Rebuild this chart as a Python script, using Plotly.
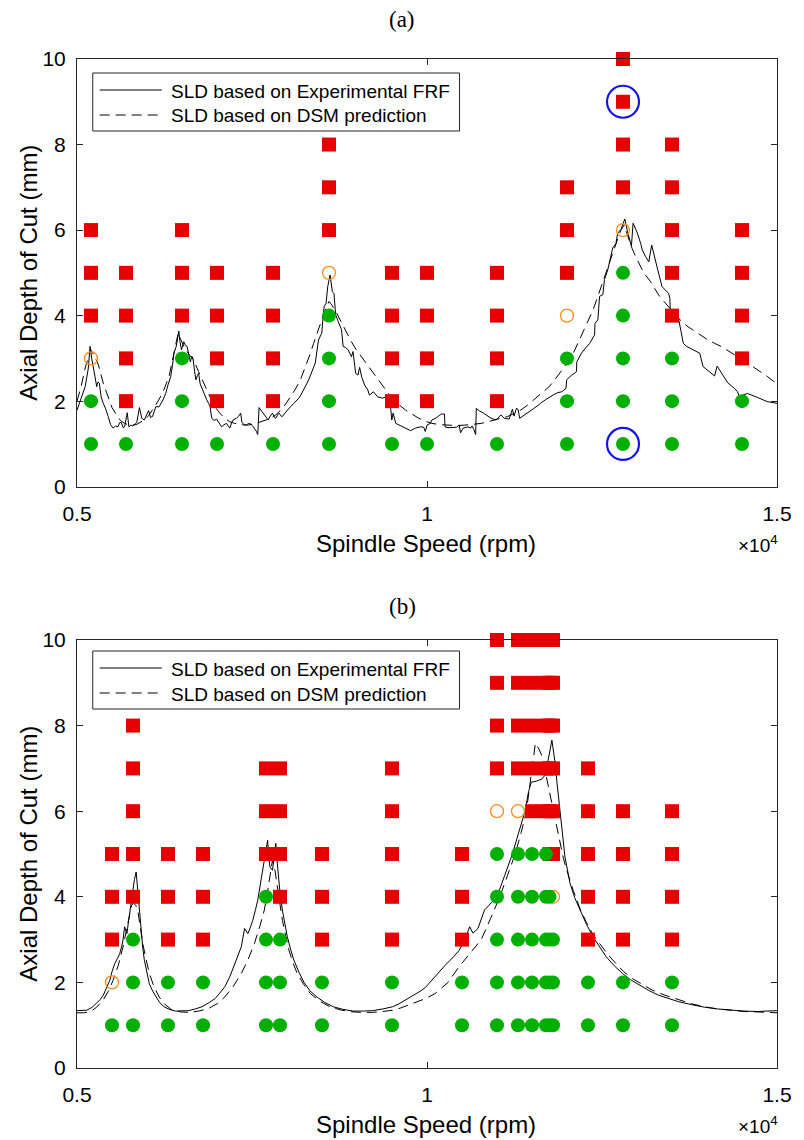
import plotly.graph_objects as go

# ---------------- data: panel (a) ----------------
a_sld_exp_rpm = [5000,5117,5160,5187,5210,5234,5260,5281,5300,5319,5345,5375,5410,5446,5480,5516,5550,5586,5610,5633,5660,5680,5718,5741,5770,5798,5830,5854,5892,5925,5962,6000,6023,6050,6079,6126,6173,6220,6267,6300,6338,6365,6385,6418,6455,6470,6493,6525,6550,6572,6600,6619,6640,6657,6680,6699,6720,6737,6760,6793,6825,6854,6880,6901,6925,6960,6995,7030,7065,7100,7136,7160,7183,7210,7230,7277,7310,7338,7356,7390,7418,7450,7478,7510,7535,7560,7582,7601,7640,7676,7705,7732,7760,7793,7820,7840,7865,7887,7910,7934,7970,8004,8050,8098,8130,8169,8200,8239,8286,8315,8343,8380,8404,8430,8450,8470,8497,8515,8530,8558,8582,8615,8648,8671,8695,8732,8779,8802,8840,8873,8920,8943,8981,9014,9037,9070,9108,9155,9178,9234,9295,9366,9413,9460,9483,9497,9516,9554,9600,9647,9700,9765,9835,9906,9953,9976,10000,10047,10070,10141,10188,10211,10249,10258,10300,10352,10422,10460,10479,10516,10560,10587,10624,10643,10671,10695,10704,10750,10798,10860,10915,10986,11020,11056,11103,11173,11220,11244,11277,11300,11324,11380,11432,11480,11526,11596,11620,11690,11750,11807,11870,11925,11986,11995,12060,12136,12140,12206,12270,12324,12394,12400,12441,12465,12512,12535,12582,12620,12653,12700,12723,12770,12826,12864,12897,12920,12944,13005,13052,13075,13122,13169,13210,13250,13286,13357,13404,13451,13470,13474,13545,13592,13629,13662,13709,13803,13897,13943,14014,14108,14145,14225,14296,14390,14437,14460,14577,14718,14859,15000]
a_sld_exp_mm = [1.79,2.34,2.75,3.28,3.0,2.81,2.55,2.34,2.45,2.42,2.1,1.95,1.82,1.64,1.45,1.37,1.42,1.40,1.5,1.50,1.38,1.40,1.73,1.40,1.44,1.42,1.46,1.50,1.85,1.6,1.56,1.72,1.78,1.62,1.64,1.87,1.87,2.0,2.18,2.38,2.57,2.85,3.12,3.28,3.64,3.4,3.20,3.39,3.30,3.28,3.05,2.92,3.05,3.00,2.7,2.50,2.6,2.65,2.4,2.26,2.15,2.03,1.95,1.87,1.60,1.55,1.58,1.48,1.40,1.45,1.48,1.42,1.37,1.5,1.56,1.60,1.65,1.72,1.50,1.45,1.44,1.48,1.47,1.42,1.37,1.3,1.22,1.85,1.76,1.68,1.6,1.56,1.65,1.72,1.62,1.60,1.68,1.72,1.66,1.64,1.72,1.79,1.87,1.95,2.0,2.07,2.15,2.26,2.42,2.52,2.65,2.8,2.89,3.2,3.43,3.5,3.59,3.95,4.21,4.29,4.68,4.95,4.56,4.52,4.02,3.86,3.67,3.28,3.25,3.20,3.04,3.16,2.65,2.61,2.79,2.55,2.38,2.26,2.14,2.22,2.10,2.07,2.10,2.03,1.81,1.56,1.72,1.48,1.44,1.40,1.36,1.31,1.37,1.40,1.39,1.29,1.44,1.48,1.56,1.62,1.68,1.70,1.70,1.40,1.38,1.39,1.39,1.44,1.26,1.37,1.38,1.40,1.37,1.42,1.33,1.22,1.83,1.77,1.73,1.65,1.60,1.56,1.62,1.68,1.60,1.58,1.81,1.65,1.83,1.81,1.60,1.66,1.71,1.77,1.83,1.91,1.95,2.03,2.1,2.15,2.2,2.22,2.30,2.50,2.6,2.69,2.92,3.12,3.25,3.35,3.55,3.82,3.90,4.45,4.49,4.84,5.07,5.35,5.58,5.69,5.93,6.01,6.26,5.97,5.77,5.62,6.16,5.93,5.69,5.54,5.38,5.26,5.65,5.35,5.14,4.68,4.60,4.52,4.40,4.13,4.02,3.94,3.63,3.35,3.28,3.20,3.12,2.81,2.71,2.59,2.82,2.61,2.43,2.30,2.22,2.11,2.18,2.09,1.99,1.95]

a_sld_dsm_rpm = [5000,5060,5120,5170,5197,5250,5305,5375,5446,5500,5563,5620,5680,5750,5845,5950,6020,6079,6150,6220,6270,6314,6350,6384,6420,6445,6480,6525,6596,6666,6737,6831,6900,6971,7040,7112,7180,7253,7350,7441,7540,7629,7700,7770,7840,7910,7980,8051,8120,8192,8240,8286,8330,8380,8430,8474,8520,8560,8600,8640,8709,8780,8850,8920,8990,9060,9131,9200,9272,9340,9413,9480,9554,9620,9695,9790,9882,9976,10070,10190,10305,10420,10540,10660,10775,10870,10962,11060,11150,11240,11338,11430,11526,11600,11667,11740,11807,11880,11948,12020,12089,12160,12230,12300,12371,12430,12488,12550,12605,12650,12700,12740,12770,12817,12850,12887,12930,12981,13030,13075,13130,13192,13250,13310,13380,13451,13540,13638,13730,13826,13920,14014,14110,14202,14300,14390,14480,14577,14670,14765,14860,14953,15000]
a_sld_dsm_mm = [2.0,2.35,2.8,3.1,3.2,3.05,2.85,2.42,2.10,1.85,1.68,1.55,1.48,1.44,1.45,1.55,1.65,1.79,1.98,2.18,2.38,2.57,2.85,3.12,3.4,3.59,3.45,3.28,3.10,2.96,2.69,2.34,2.10,1.87,1.72,1.60,1.52,1.48,1.45,1.44,1.47,1.52,1.56,1.60,1.68,1.79,1.93,2.10,2.28,2.50,2.70,2.89,3.1,3.35,3.6,3.80,4.05,4.2,4.33,4.25,4.06,3.83,3.59,3.39,3.20,3.04,2.89,2.73,2.57,2.41,2.26,2.12,1.99,1.89,1.79,1.69,1.60,1.53,1.48,1.45,1.44,1.43,1.44,1.46,1.48,1.52,1.56,1.60,1.64,1.71,1.79,1.90,2.03,2.12,2.22,2.33,2.46,2.61,2.77,2.94,3.12,3.37,3.63,3.88,4.13,4.40,4.68,4.98,5.26,5.48,5.69,5.87,6.00,6.12,5.95,5.77,5.57,5.38,5.22,5.07,4.93,4.80,4.64,4.48,4.34,4.21,4.03,3.86,3.74,3.63,3.53,3.43,3.35,3.28,3.18,3.08,2.98,2.89,2.79,2.69,2.58,2.46,2.42]

# cutting tests (spindle speed rpm -> axial depths mm)
a_stable = {5200: [1, 2], 5700: [1], 6500: [1, 2, 3], 7000: [1], 7800: [1], 8600: [1, 2, 3, 4],
            9500: [1], 10000: [1], 11000: [1], 12000: [1, 2, 3], 12800: [1, 2, 3, 4, 5],
            13500: [1, 2, 3], 14500: [1, 2]}
a_marginal = {5200: [3], 8600: [5], 12000: [4], 12800: [6]}
a_unstable = {5200: [4, 5, 6], 5700: [2, 3, 4, 5], 6500: [4, 5, 6], 7000: [2, 3, 4, 5],
              7800: [2, 3, 4, 5], 8600: [6, 7, 8], 9500: [2, 3, 4, 5], 10000: [2, 3, 4, 5],
              11000: [2, 3, 4, 5], 12000: [5, 6, 7], 12800: [7, 8, 9, 10],
              13500: [4, 5, 6, 7, 8], 14500: [3, 4, 5, 6]}
a_highlight_rpm = [12800, 12800]
a_highlight_mm = [9, 1]

# ---------------- data: panel (b) ----------------
b_sld_exp_rpm = [5000,5140,5220,5281,5330,5375,5420,5469,5500,5539,5575,5610,5640,5657,5680,5700,5713,5730,5751,5775,5798,5820,5845,5865,5882,5900,5915,5940,5962,6000,6033,6080,6126,6180,6244,6320,6408,6500,6596,6690,6784,6880,6971,7040,7112,7180,7253,7300,7347,7394,7441,7480,7511,7550,7582,7629,7676,7723,7740,7756,7793,7815,7840,7855,7873,7900,7934,7970,8004,8050,8098,8170,8239,8330,8427,8540,8662,8800,8943,9080,9225,9370,9507,9600,9695,9770,9835,9910,9976,10040,10150,10260,10380,10460,10540,10610,10657,10728,10821,10910,11000,11110,11220,11310,11400,11450,11490,11560,11640,11690,11737,11760,11784,11805,11831,11855,11877,11900,11924,11950,11971,12010,12042,12110,12183,12280,12371,12465,12559,12680,12793,12910,13028,13170,13309,13450,13592,13780,13967,14150,14343,14530,14718,14860,15000]
b_sld_exp_mm = [1.34,1.35,1.42,1.51,1.6,1.70,1.85,2.05,2.25,2.44,2.55,2.67,2.85,2.99,3.30,3.18,3.14,3.35,3.61,3.9,4.16,4.4,4.58,4.2,3.92,3.5,3.14,2.8,2.52,2.2,1.97,1.8,1.66,1.53,1.43,1.37,1.33,1.33,1.34,1.38,1.43,1.52,1.62,1.75,1.90,2.12,2.44,2.62,2.83,3.26,3.14,3.3,3.45,3.7,3.92,4.39,4.86,5.32,4.95,4.70,4.62,4.95,5.25,4.9,4.55,4.1,3.69,3.35,3.07,2.78,2.52,2.24,2.01,1.80,1.66,1.53,1.43,1.37,1.33,1.33,1.34,1.38,1.43,1.50,1.59,1.66,1.74,1.80,1.88,2.0,2.2,2.4,2.6,2.75,3.0,3.30,3.15,3.26,3.69,3.85,4.0,4.5,5.0,5.5,6.0,6.45,6.68,6.70,6.75,6.85,7.2,7.45,7.66,7.45,7.12,6.7,6.34,5.95,5.56,5.2,4.93,4.6,4.32,3.98,3.69,3.35,3.07,2.82,2.60,2.38,2.21,2.06,1.94,1.81,1.70,1.62,1.55,1.48,1.42,1.38,1.35,1.33,1.32,1.33,1.34]

b_sld_dsm_rpm = [5000,5100,5187,5280,5375,5450,5516,5590,5657,5710,5751,5780,5807,5840,5868,5900,5939,5985,6033,6100,6173,6260,6361,6480,6596,6740,6878,7000,7112,7230,7347,7440,7535,7610,7676,7715,7746,7770,7793,7830,7864,7900,7934,7980,8028,8085,8145,8240,8333,8470,8615,8780,8943,9080,9225,9370,9507,9620,9741,9835,9976,10117,10300,10450,10620,10775,10910,11040,11150,11260,11345,11420,11460,11500,11525,11549,11600,11645,11680,11715,11750,11786,11820,11856,11900,11948,12000,12089,12180,12277,12370,12465,12580,12699,12810,12934,13070,13216,13400,13592,13780,13967,14150,14343,14530,14718,14860,15000]
b_sld_dsm_mm = [1.29,1.29,1.31,1.42,1.59,1.80,2.05,2.40,2.83,3.25,3.61,3.8,3.85,3.8,3.69,3.3,2.91,2.55,2.21,1.90,1.66,1.48,1.35,1.31,1.30,1.33,1.39,1.50,1.66,1.90,2.21,2.52,2.91,3.30,3.69,4.05,4.39,4.65,4.86,4.6,4.23,3.85,3.45,3.10,2.75,2.46,2.21,1.95,1.74,1.56,1.43,1.35,1.31,1.30,1.30,1.32,1.35,1.40,1.47,1.53,1.62,1.74,2.0,2.35,2.7,3.0,3.5,4.0,4.5,5.0,5.5,6.0,6.5,7.0,7.35,7.59,7.45,7.28,7.0,6.72,6.45,6.19,5.9,5.62,5.25,4.9,4.6,4.15,3.75,3.40,3.12,2.91,2.66,2.44,2.25,2.09,1.95,1.82,1.70,1.59,1.50,1.43,1.38,1.35,1.32,1.31,1.30,1.29]

b_stable = {5500: [1], 5800: [1, 2, 3], 6300: [1, 2], 6800: [1, 2], 7700: [1, 2, 3, 4],
            7900: [1, 2, 3], 8500: [1, 2], 9500: [1, 2], 10500: [1, 2],
            11000: [1, 2, 3, 4, 5], 11300: [1, 2, 3, 4, 5], 11500: [1, 2, 3, 4, 5],
            11700: [1, 2, 3, 4, 5], 11750: [1, 2, 3, 4], 11800: [1, 2, 3],
            12300: [1, 2], 12800: [1, 2], 13500: [1, 2]}
b_marginal = {5500: [2], 11000: [6], 11300: [6], 11800: [4]}
b_unstable = {5500: [3, 4, 5], 5800: [4, 5, 6, 7, 8], 6300: [3, 4, 5], 6800: [3, 4, 5],
              7700: [5, 6, 7], 7900: [4, 5, 6, 7], 8500: [3, 4, 5], 9500: [3, 4, 5, 6, 7],
              10500: [3, 4, 5], 11000: [7, 8, 9, 10], 11300: [7, 8, 9, 10],
              11500: [6, 7, 8, 9, 10], 11700: [6, 7, 8, 9, 10],
              11750: [5, 6, 7, 8, 9, 10], 11800: [5, 6, 7, 8, 9, 10],
              12300: [3, 4, 5, 6, 7], 12800: [3, 4, 5, 6], 13500: [3, 4, 5, 6]}

x_tickvals = [5000, 10000, 15000]
x_ticktext = ["0.5", "1", "1.5"]
y_tickvals = [0, 2, 4, 6, 8, 10]
legend_labels = ["SLD based on Experimental FRF", "SLD based on DSM prediction"]

# ---------------- styling / layout ----------------
W, H = 804, 1140
ML, MR, MT, MB = 77, 17, 59, 72
RED, GREEN, ORANGE, BLUE = "#E60000", "#00B000", "#FF8A1C", "#1414E6"
AXC = "#262626"
SANS = "Liberation Sans, Arial, sans-serif"
SERIF = "Liberation Serif, Times New Roman, serif"


def px_x(p):
    return (p - ML) / (W - ML - MR)


def px_y(p):
    return (H - MB - p) / (H - MT - MB)


def flatten(d):
    xs, ys = [], []
    for k, v in d.items():
        for depth in v:
            xs.append(k)
            ys.append(depth)
    return xs, ys


fig = go.Figure()

panels = [
    ("x", "y", a_sld_exp_rpm, a_sld_exp_mm, a_sld_dsm_rpm, a_sld_dsm_mm, a_stable, a_marginal, a_unstable),
    ("x2", "y2", b_sld_exp_rpm, b_sld_exp_mm, b_sld_dsm_rpm, b_sld_dsm_mm, b_stable, b_marginal, b_unstable),
]

for xa, ya, ex_x, ex_y, ds_x, ds_y, st, mg, un in panels:
    fig.add_trace(go.Scatter(x=ex_x, y=ex_y, mode="lines", xaxis=xa, yaxis=ya,
                             line=dict(color="black", width=1), name=legend_labels[0],
                             showlegend=False))
    fig.add_trace(go.Scatter(x=ds_x, y=ds_y, mode="lines", xaxis=xa, yaxis=ya,
                             line=dict(color="black", width=1, dash="10px,6px"),
                             name=legend_labels[1], showlegend=False))
    ux, uy = flatten(un)
    fig.add_trace(go.Scatter(x=ux, y=uy, mode="markers", xaxis=xa, yaxis=ya, cliponaxis=False,
                             marker=dict(symbol="square", size=14, color=RED, line=dict(width=0)),
                             name="Unstable", showlegend=False))
    mx, my = flatten(mg)
    fig.add_trace(go.Scatter(x=mx, y=my, mode="markers", xaxis=xa, yaxis=ya, cliponaxis=False,
                             marker=dict(symbol="circle-open", size=13, color=ORANGE,
                                         line=dict(width=1.3, color=ORANGE)),
                             name="Marginal", showlegend=False))
    sx, sy = flatten(st)
    fig.add_trace(go.Scatter(x=sx, y=sy, mode="markers", xaxis=xa, yaxis=ya, cliponaxis=False,
                             marker=dict(symbol="circle", size=14, color=GREEN, line=dict(width=0)),
                             name="Stable", showlegend=False))

fig.add_trace(go.Scatter(x=a_highlight_rpm, y=a_highlight_mm, mode="markers", xaxis="x", yaxis="y",
                         cliponaxis=False,
                         marker=dict(symbol="circle-open", size=32, color=BLUE,
                                     line=dict(width=2.2, color=BLUE)),
                         name="Highlighted", showlegend=False))

a_dom = [px_y(486.7), 1.0]
b_dom = [0.0, px_y(640)]

axis_common = dict(showline=True, linecolor=AXC, linewidth=1, mirror="ticks", ticks="inside",
                   ticklen=6, tickcolor=AXC, showgrid=False, zeroline=False,
                   tickfont=dict(family=SANS, size=21, color="black"))

fig.update_layout(
    width=W, height=H, margin=dict(l=ML, r=MR, t=MT, b=MB),
    paper_bgcolor="white", plot_bgcolor="white", showlegend=False, hovermode=False,
    xaxis=dict(domain=[0, 1], anchor="y", range=[5000, 15000], tickvals=x_tickvals,
               ticktext=x_ticktext, ticklabelstandoff=8, **axis_common),
    yaxis=dict(domain=a_dom, anchor="x", range=[0, 10], tickvals=y_tickvals,
               ticklabelstandoff=6, **axis_common),
    xaxis2=dict(domain=[0, 1], anchor="y2", range=[5000, 15000], tickvals=x_tickvals,
                ticktext=x_ticktext, ticklabelstandoff=8, **axis_common),
    yaxis2=dict(domain=b_dom, anchor="x2", range=[0, 10], tickvals=y_tickvals,
                ticklabelstandoff=6, **axis_common),
)

shapes = []
annotations = []
offsets = [0, 581]
titles = ["(a)", "(b)"]
for i, off in enumerate(offsets):
    # panel title
    annotations.append(dict(text=titles[i], x=px_x(407), y=px_y(20 + off * 1.01), xref="paper",
                            yref="paper", showarrow=False, xanchor="center", yanchor="middle",
                            font=dict(family=SERIF, size=23, color="black")))
    # axis titles
    annotations.append(dict(text="Spindle Speed (rpm)", x=px_x(431), y=px_y(543 + off),
                            xref="paper", yref="paper", showarrow=False, xanchor="center",
                            yanchor="middle", font=dict(family=SANS, size=24, color="black")))
    annotations.append(dict(text="Axial Depth of Cut (mm)", x=px_x(27), y=px_y(273 + off),
                            xref="paper", yref="paper", showarrow=False, xanchor="center",
                            yanchor="middle", textangle=-90,
                            font=dict(family=SANS, size=24, color="black")))
    annotations.append(dict(text="×10<sup>4</sup>", x=px_x(790), y=px_y(544 + off),
                            xref="paper", yref="paper", showarrow=False, xanchor="right",
                            yanchor="middle", font=dict(family=SANS, size=19, color="black")))
    # legend box
    top = 73 + off - (i * 3)
    bot = 131 + off - (i * 3)
    shapes.append(dict(type="rect", xref="paper", yref="paper", x0=px_x(93), x1=px_x(465),
                       y0=px_y(bot), y1=px_y(top), line=dict(color=AXC, width=1),
                       fillcolor="white", layer="above"))
    for j, lab in enumerate(legend_labels):
        yy = top + 17 + 25 * j
        shapes.append(dict(type="line", xref="paper", yref="paper", x0=px_x(100), x1=px_x(163),
                           y0=px_y(yy), y1=px_y(yy), layer="above",
                           line=dict(color="black", width=1,
                                     dash="solid" if j == 0 else "10px,6px")))
        annotations.append(dict(text=lab, x=px_x(170), y=px_y(yy + 1), xref="paper", yref="paper",
                                showarrow=False, xanchor="left", yanchor="middle",
                                font=dict(family=SANS, size=19, color="black")))

fig.update_layout(shapes=shapes, annotations=annotations)
fig.write_html("out.html", config={"displayModeBar": False},
               post_script="document.body.style.margin='0';document.body.style.overflow='hidden';")
